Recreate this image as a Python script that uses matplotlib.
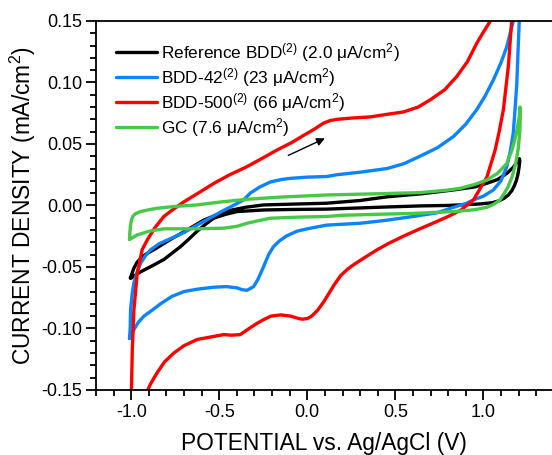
import matplotlib
matplotlib.use("Agg")
import matplotlib.pyplot as plt
from matplotlib.ticker import MultipleLocator, FormatStrFormatter

# cyclic voltammograms (potential in V, current density in mA/cm2)
# each loop: forward scan then reverse scan
ref_x = [-1.005, -0.995, -0.985, -0.966, -0.94, -0.909, -0.86, -0.815, -0.77, -0.72, -0.66,
         -0.589, -0.52, -0.438, -0.35, -0.249, -0.10, 0.11, 0.30, 0.453, 0.65, 0.83, 0.95,
         1.02, 1.08, 1.133, 1.17, 1.195, 1.205,
         1.207, 1.203, 1.196, 1.187, 1.176, 1.162, 1.142, 1.118, 1.09, 1.05, 0.98, 0.80, 0.64,
         0.40, 0.11, -0.10, -0.249, -0.40, -0.47, -0.532, -0.58, -0.626, -0.67, -0.72, -0.77,
         -0.815, -0.88, -0.947, -0.98, -1.0, -1.005]
ref_y = [-0.059, -0.055, -0.051, -0.046, -0.042, -0.039, -0.035, -0.031, -0.027, -0.023, -0.018,
         -0.012, -0.008, -0.004, -0.0015, 0.0004, 0.001, 0.0018, 0.004, 0.007, 0.0095, 0.0126, 0.015,
         0.018, 0.021, 0.026, 0.031, 0.036, 0.038,
         0.036, 0.031, 0.025, 0.020, 0.016, 0.012, 0.0085, 0.0058, 0.0038, 0.0022, 0.0012, 0.0,
         -0.0004, -0.0015, -0.003, -0.0033, -0.0037, -0.005, -0.0075, -0.0104, -0.0155, -0.021,
         -0.027, -0.0335, -0.039, -0.044, -0.049, -0.054, -0.057, -0.059, -0.059]

bdd42_x = [-1.01, -1.006, -1.004, -0.995, -0.985, -0.966, -0.947, -0.92, -0.89, -0.84, -0.777,
           -0.70, -0.626, -0.55, -0.475, -0.42, -0.362, -0.324, -0.27, -0.211, -0.15, -0.098, 0.0,
           0.11, 0.17, 0.30, 0.453, 0.55, 0.64, 0.74, 0.83, 0.90, 0.963, 1.01, 1.057, 1.10, 1.133,
           1.17, 1.18,
           1.206, 1.204, 1.197, 1.19, 1.18, 1.17, 1.153, 1.133, 1.10, 1.057, 1.00, 0.944, 0.906,
           0.82, 0.737, 0.60, 0.453, 0.30, 0.11, 0.0, -0.06, -0.12, -0.16, -0.192, -0.22, -0.249,
           -0.28, -0.305, -0.343, -0.37, -0.40, -0.46, -0.532, -0.62, -0.70, -0.77, -0.834, -0.88,
           -0.928, -0.96, -0.985, -1.0, -1.01]
bdd42_y = [-0.108, -0.100, -0.085, -0.072, -0.063, -0.054, -0.047, -0.041, -0.036, -0.031, -0.027,
           -0.022, -0.016, -0.010, -0.004, 0.000, 0.0045, 0.010, 0.015, 0.019, 0.021, 0.022, 0.023,
           0.0235, 0.025, 0.027, 0.030, 0.034, 0.040, 0.047, 0.056, 0.066, 0.078, 0.089, 0.102,
           0.116, 0.129, 0.15, 0.16,
           0.16, 0.15, 0.125, 0.099, 0.078, 0.059, 0.044, 0.0315, 0.020, 0.0126, 0.0075, 0.0045, 0.0018,
           -0.002, -0.006, -0.009, -0.012, -0.0145, -0.016, -0.019, -0.021, -0.025, -0.029, -0.0335,
           -0.040, -0.050, -0.060, -0.066, -0.069, -0.0685, -0.067, -0.066, -0.0665, -0.068, -0.070,
           -0.074, -0.080, -0.085, -0.090, -0.095, -0.101, -0.105, -0.108]

bdd500_x = [-1.003, -0.999, -0.994, -0.985, -0.966, -0.938, -0.909, -0.865, -0.815, -0.76, -0.70,
            -0.62, -0.53, -0.44, -0.343, -0.26, -0.173, -0.09, -0.02, 0.04, 0.093, 0.13, 0.17, 0.25,
            0.36, 0.45, 0.546, 0.63, 0.70, 0.78, 0.85, 0.91, 0.963, 1.005, 1.04, 1.06,
            1.165, 1.161, 1.142, 1.114, 1.09, 1.067, 1.02, 0.944, 0.87, 0.80, 0.737, 0.64, 0.546,
            0.46, 0.397, 0.33, 0.265, 0.227, 0.19, 0.155, 0.125, 0.095, 0.06, 0.025, 0.0, -0.03,
            -0.06, -0.094, -0.15, -0.207, -0.25, -0.287, -0.33, -0.36, -0.381, -0.43, -0.475, -0.55,
            -0.626, -0.70, -0.758, -0.81, -0.853, -0.89, -0.909, -0.93]
bdd500_y = [-0.17, -0.15, -0.117, -0.085, -0.055, -0.036, -0.028, -0.018, -0.009, -0.003, 0.003,
            0.010, 0.018, 0.025, 0.0315, 0.038, 0.045, 0.051, 0.057, 0.062, 0.067, 0.069, 0.070, 0.071,
            0.072, 0.074, 0.076, 0.080, 0.086, 0.094, 0.105, 0.117, 0.132, 0.142, 0.15, 0.16,
            0.16, 0.15, 0.113, 0.078, 0.06, 0.045, 0.023, 0.0045, -0.004, -0.009, -0.013, -0.019, -0.025,
            -0.031, -0.036, -0.042, -0.048, -0.052, -0.057, -0.064, -0.071, -0.078, -0.085, -0.090,
            -0.092, -0.0925, -0.0915, -0.090, -0.089, -0.090, -0.093, -0.096, -0.100, -0.103, -0.105,
            -0.1055, -0.105, -0.107, -0.109, -0.114, -0.120, -0.127, -0.136, -0.145, -0.151, -0.16]

gc_x = [-1.01, -1.008, -1.004, -0.998, -0.99, -0.978, -0.962, -0.947, -0.90, -0.853, -0.75,
        -0.626, -0.48, -0.343, -0.15, 0.11, 0.40, 0.64, 0.80, 0.87, 0.95, 1.02, 1.08, 1.133,
        1.165, 1.188, 1.203, 1.208,
        1.21, 1.207, 1.199, 1.185, 1.165, 1.14, 1.115, 1.095, 1.06, 1.02, 0.95, 0.83, 0.60, 0.453,
        0.20, 0.11, -0.05, -0.211, -0.28, -0.343, -0.40, -0.475, -0.626, -0.815, -0.90, -0.966,
        -0.99, -1.01]
gc_y = [-0.0275, -0.022, -0.016, -0.0115, -0.0088, -0.0070, -0.0058, -0.005, -0.0035, -0.0023,
        -0.0008, 0.0004, 0.003, 0.005, 0.0068, 0.0085, 0.0095, 0.0104, 0.0125, 0.014, 0.017, 0.0207,
        0.026, 0.034, 0.046, 0.059, 0.071, 0.080,
        0.072, 0.060, 0.047, 0.035, 0.024, 0.015, 0.009, 0.0045, 0.001, -0.0015, -0.0035, -0.005,
        -0.0065, -0.007, -0.008, -0.009, -0.0095, -0.0104, -0.0125, -0.0145, -0.017, -0.0185,
        -0.019, -0.019, -0.021, -0.024, -0.026, -0.0275]

labels = [r"Reference BDD$^{(2)}$ (2.0 $\mu$A/cm$^{2}$)",
          r"BDD-42$^{(2)}$ (23 $\mu$A/cm$^{2}$)",
          r"BDD-500$^{(2)}$ (66 $\mu$A/cm$^{2}$)",
          r"GC (7.6 $\mu$A/cm$^{2}$)"]
colors = ["black", "#0a84ff", "#ff0000", "#47c847"]

# scan direction arrow (tail, head)
arrow_tail = (-0.122, 0.0397)
arrow_head = (0.114, 0.0555)

plt.rcParams["font.family"] = ["Liberation Sans", "DejaVu Sans"]
plt.rcParams["mathtext.fontset"] = "custom"
plt.rcParams["mathtext.rm"] = "Liberation Sans"
plt.rcParams["mathtext.it"] = "Liberation Sans"
plt.rcParams["mathtext.default"] = "regular"
plt.rcParams["axes.unicode_minus"] = False

fig = plt.figure(figsize=(5.52, 4.55), dpi=100)
ax = fig.add_axes([0.174, 0.143, 0.826, 0.811])

series = [(ref_x, ref_y), (bdd42_x, bdd42_y), (bdd500_x, bdd500_y), (gc_x, gc_y)]
for (xs, ys), c, lab in zip(series, colors, labels):
    ax.plot(xs, ys, color=c, lw=2.4, label=lab, solid_joinstyle="round", solid_capstyle="round")

ax.annotate("", xy=arrow_head, xytext=arrow_tail,
            arrowprops=dict(arrowstyle="-|>", color="black", lw=1.0, mutation_scale=12))

ax.set_xlim(-1.2, 1.39)
ax.set_ylim(-0.15, 0.15)
ax.xaxis.set_major_locator(MultipleLocator(0.5))
ax.xaxis.set_minor_locator(MultipleLocator(0.1))
ax.yaxis.set_major_locator(MultipleLocator(0.05))
ax.yaxis.set_minor_locator(MultipleLocator(0.01))
ax.xaxis.set_major_formatter(FormatStrFormatter("%.1f"))
ax.yaxis.set_major_formatter(FormatStrFormatter("%.2f"))
ax.tick_params(which="major", direction="out", length=7, width=1.3, labelsize=13, pad=3)
ax.tick_params(which="minor", direction="out", length=4, width=1.3)
ax.spines["right"].set_visible(False)
for s in ["left", "bottom", "top"]:
    ax.spines[s].set_linewidth(1.3)

ax.set_xlabel("POTENTIAL vs. Ag/AgCl (V)", fontsize=16.4, labelpad=8)
ax.set_ylabel(r"CURRENT DENSITY (mA/cm$^{2}$)", fontsize=16.4, labelpad=2)

ax.legend(loc="upper left", bbox_to_anchor=(0.028, 0.965), frameon=False, fontsize=12.4,
          handlelength=2.4, handletextpad=0.25, labelspacing=0.12, borderaxespad=0.0)

fig.savefig("out.png", dpi=100)
